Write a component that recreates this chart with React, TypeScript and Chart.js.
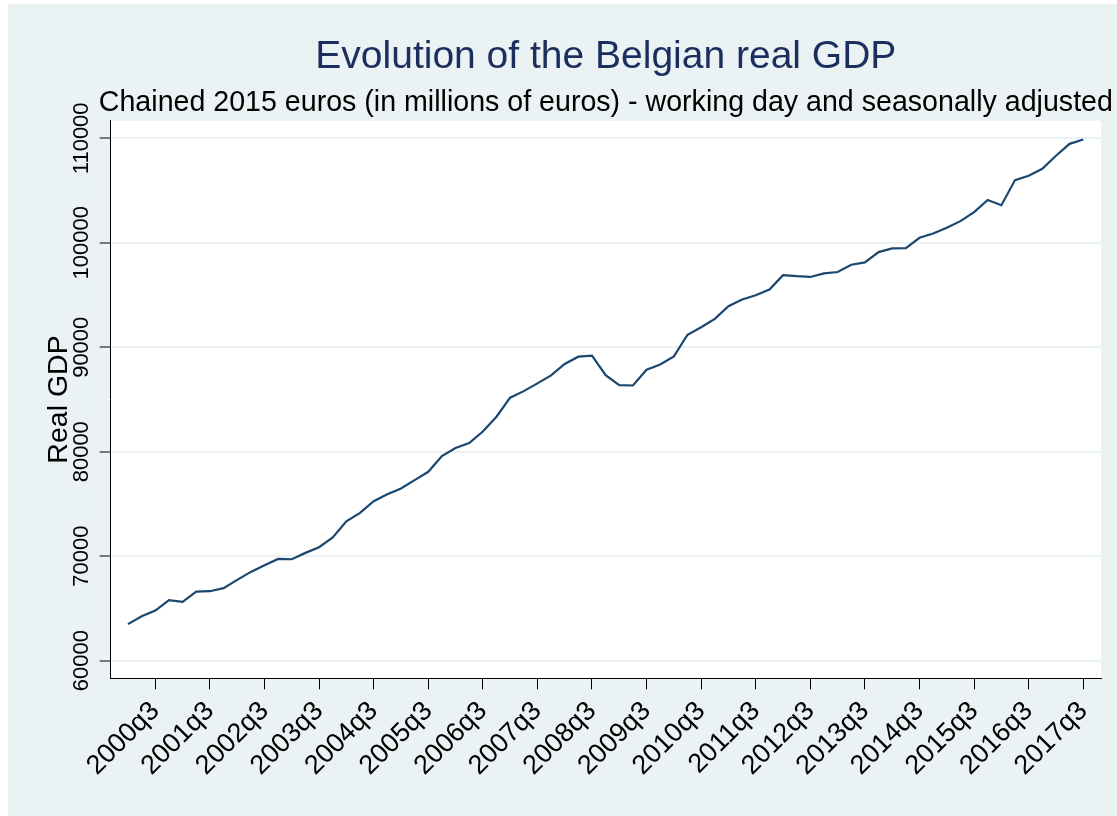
import React, { useEffect, useRef } from "react";
import { Chart, registerables } from "chart.js";

Chart.register(...registerables);

// ---------------- data ----------------
const quarters: string[] = [
  "2000q1", "2000q2", "2000q3", "2000q4",
  "2001q1", "2001q2", "2001q3", "2001q4",
  "2002q1", "2002q2", "2002q3", "2002q4",
  "2003q1", "2003q2", "2003q3", "2003q4",
  "2004q1", "2004q2", "2004q3", "2004q4",
  "2005q1", "2005q2", "2005q3", "2005q4",
  "2006q1", "2006q2", "2006q3", "2006q4",
  "2007q1", "2007q2", "2007q3", "2007q4",
  "2008q1", "2008q2", "2008q3", "2008q4",
  "2009q1", "2009q2", "2009q3", "2009q4",
  "2010q1", "2010q2", "2010q3", "2010q4",
  "2011q1", "2011q2", "2011q3", "2011q4",
  "2012q1", "2012q2", "2012q3", "2012q4",
  "2013q1", "2013q2", "2013q3", "2013q4",
  "2014q1", "2014q2", "2014q3", "2014q4",
  "2015q1", "2015q2", "2015q3", "2015q4",
  "2016q1", "2016q2", "2016q3", "2016q4",
  "2017q1", "2017q2", "2017q3",
];

const realGdp: number[] = [
  63500, 64250, 64800, 65790,
  65630, 66620, 66650, 66940,
  67740, 68500, 69140, 69740,
  69710, 70320, 70860, 71790,
  73350, 74150, 75270, 75940,
  76490, 77280, 78080, 79580,
  80350, 80830, 81940, 83350,
  85170, 85800, 86540, 87310,
  88400, 89100, 89200, 87330,
  86370, 86340, 87850, 88350,
  89120, 91200, 91920, 92720,
  93930, 94570, 94980, 95530,
  96900, 96800, 96730, 97070,
  97200, 97900, 98120, 99110,
  99460, 99490, 100480, 100890,
  101430, 102070, 102930, 104100,
  103600, 106000, 106410, 107080,
  108330, 109470, 109890,
];

const xTickLabels: string[] = [
  "2000q3", "2001q3", "2002q3", "2003q3", "2004q3", "2005q3",
  "2006q3", "2007q3", "2008q3", "2009q3", "2010q3", "2011q3",
  "2012q3", "2013q3", "2014q3", "2015q3", "2016q3", "2017q3",
];

const yTickValues: number[] = [60000, 70000, 80000, 90000, 100000, 110000];

const titleText = "Evolution of the Belgian real GDP";
const subtitleText =
  "Chained 2015 euros (in millions of euros) - working day and seasonally adjusted";
const yTitleText = "Real GDP";

// ---------------- style ----------------
const FONT = "'Liberation Sans', Arial, Helvetica, sans-serif";
const BG = "#EAF2F3";
const GRID = "#EAF2F3";
const LINE = "#1A476F";
const TITLE_COLOR = "#1C2E5E";

const W = 1109;
const H = 812;

const stataPlugin = {
  id: "stataLook",
  beforeDraw(chart: any) {
    const { ctx, chartArea: a, width, height } = chart;
    ctx.save();
    ctx.fillStyle = BG;
    ctx.fillRect(0, 0, width, height);
    ctx.fillStyle = "#FFFFFF";
    ctx.fillRect(a.left, a.top, a.right - a.left, a.bottom - a.top);
    ctx.restore();
  },
  afterDraw(chart: any) {
    const { ctx, chartArea: a } = chart;
    const cx = (a.left + a.right) / 2;
    ctx.save();
    ctx.textAlign = "center";
    ctx.textBaseline = "alphabetic";

    ctx.fillStyle = TITLE_COLOR;
    ctx.font = `39px ${FONT}`;
    ctx.fillText(titleText, cx, a.top - 52.4);

    ctx.fillStyle = "#000000";
    ctx.font = `28.6px ${FONT}`;
    ctx.fillText(subtitleText, cx, a.top - 9.7);

    // y-axis title
    ctx.save();
    ctx.translate(a.left - 44, (a.top + a.bottom) / 2);
    ctx.rotate(-Math.PI / 2);
    ctx.font = `28.5px ${FONT}`;
    ctx.fillText(yTitleText, 0, 0);
    ctx.restore();

    // y tick labels (vertical)
    const ys = chart.scales.y;
    ctx.font = `22px ${FONT}`;
    for (const t of ys.ticks) {
      const py = ys.getPixelForValue(t.value);
      ctx.save();
      ctx.translate(a.left - 22.5, py);
      ctx.rotate(-Math.PI / 2);
      ctx.fillText(String(t.value), 0, 0);
      ctx.restore();
    }
    ctx.restore();
  },
};

export default function App() {
  const canvasRef = useRef<HTMLCanvasElement | null>(null);

  useEffect(() => {
    const canvas = canvasRef.current;
    if (!canvas) return;
    const points = realGdp.map((v, i) => ({ x: i, y: v }));

    const chart = new Chart(canvas, {
      type: "line",
      data: {
        datasets: [
          {
            label: yTitleText,
            data: points,
            borderColor: LINE,
            borderWidth: 2.2,
            pointRadius: 0,
            tension: 0,
            fill: false,
          },
        ],
      },
      options: {
        animation: false,
        responsive: false,
        devicePixelRatio: 1,
        layout: { padding: { top: 116.7, right: 16, left: 0, bottom: 0 } },
        plugins: {
          legend: { display: false },
          tooltip: { enabled: false },
          title: { display: false },
        },
        scales: {
          x: {
            type: "linear",
            min: -1.27,
            max: 71.3,
            afterBuildTicks: (s: any) => {
              s.ticks = xTickLabels.map((l) => ({ value: quarters.indexOf(l) }));
            },
            afterFit: (s: any) => {
              s.height = 137.7;
            },
            grid: {
              drawOnChartArea: false,
              drawTicks: true,
              tickLength: 11,
              tickColor: "#000000",
              tickWidth: 1,
            },
            border: { display: true, color: "#000000", width: 1 },
            ticks: {
              autoSkip: false,
              minRotation: 45,
              maxRotation: 45,
              padding: 6,
              color: "#000000",
              font: { size: 27, family: FONT },
              callback: (v: any) => quarters[Number(v)] ?? "",
            },
          },
          y: {
            type: "linear",
            min: 58316,
            max: 111684,
            afterBuildTicks: (s: any) => {
              s.ticks = yTickValues.map((v) => ({ value: v }));
            },
            afterFit: (s: any) => {
              s.width = 102.7;
            },
            grid: {
              color: GRID,
              lineWidth: 2,
              drawTicks: true,
              tickLength: 11,
              tickColor: "#000000",
              tickWidth: 1,
            },
            border: { display: true, color: "#000000", width: 1 },
            ticks: { display: false },
          },
        },
      },
      plugins: [stataPlugin],
    } as any);

    return () => chart.destroy();
  }, []);

  return (
    <div
      style={{
        position: "absolute",
        left: 8,
        top: 4,
        width: W,
        height: H,
        overflow: "hidden",
      }}
    >
      <canvas ref={canvasRef} width={W} height={H} style={{ display: "block", width: W, height: H }} />
    </div>
  );
}
